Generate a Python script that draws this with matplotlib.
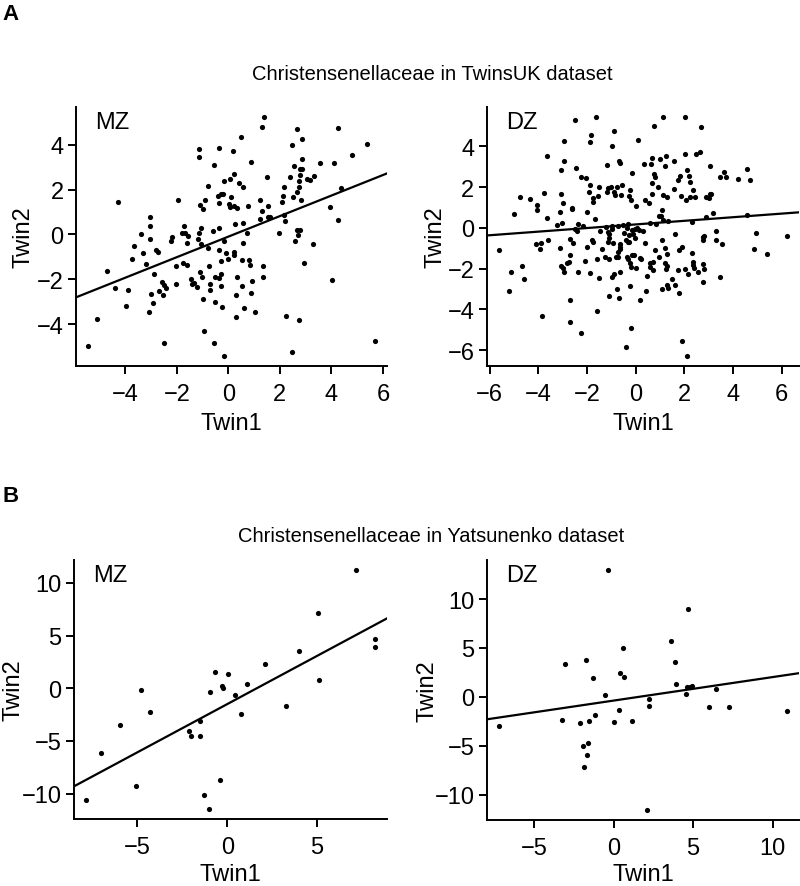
import matplotlib
matplotlib.use("Agg")
import matplotlib.pyplot as plt
import numpy as np

plt.rcParams["font.family"] = ["Liberation Sans", "DejaVu Sans"]

# TwinsUK, MZ pairs (Twin1, Twin2)
uk_mz_twin1 = [
    1.38, 1.31, 2.65, 4.27, 0.47, 2.84, 5.39, 2.48, -1.14, -0.38, 0.18, -1.13, 4.78, 2.87,
    0.87, -0.56, 2.55, 3.57, 4.10, 2.77, 2.86, 2.40, 1.51, -0.17, 0.05, 0.22, 0.40, 0.57,
    -0.81, 3.32, 3.04, 3.16, 2.77, 2.73, 2.73, 2.14, 4.36, 2.65, 2.13, 2.49, 2.83, 2.10,
    -4.30, -1.97, -0.90, -1.09, -0.97, -0.39, -0.30, -0.21, -0.38, 0.10, 0.03, 0.08, 0.22,
    0.35, 0.75, 1.22, 1.53, 1.31, 1.23, 1.53, 1.61, 2.16, 2.19, 3.94, 4.25, -3.05, -3.04,
    -3.39, -3.06, -3.66, -3.74, -3.30, -3.19, -2.82, -2.75, -2.88, -2.19, -2.23, -1.79,
    -1.73, -1.70, -1.55, -1.62, -1.14, -1.06, -1.17, -1.05, -0.58, -0.38, -0.78, -0.35,
    -0.17, -0.10, -0.30, -0.03, 0.21, 0.23, 0.26, 0.55, 0.73, 0.57, 0.51, 0.79, 0.82,
    1.97, 2.60, 2.68, 2.79, 2.71, 3.30, 2.95, 4.03, 1.34, 1.34, 0.32, 0.51, 0.91, 0.88,
    0.30, 0.62, 1.05, 0.29, 2.25, 2.75, 2.45, 5.71, -0.56, -0.19, -0.94, -2.51, -5.47,
    -5.10, -4.70, -4.39, -3.90, -3.97, -3.10, -2.94, -3.00, -2.68, -2.56, -2.49, -2.44,
    -2.53, -2.05, -2.05, -1.77, -1.62, -1.45, -1.42, -1.32, -1.23, -1.12, -1.01, -0.75,
    -0.71, -0.73, -0.52, -0.36, -0.30, -0.30, -0.97, -0.51, -0.23,
]
uk_mz_twin2 = [
    5.26, 4.79, 4.70, 4.77, 4.36, 4.27, 4.03, 4.00, 3.82, 3.88, 3.72, 3.45, 3.53, 3.36,
    3.24, 3.10, 3.05, 3.17, 3.19, 2.92, 2.92, 2.55, 2.56, 2.40, 2.46, 2.71, 2.28, 2.12,
    2.16, 2.61, 2.49, 2.41, 2.67, 2.37, 2.10, 2.13, 2.07, 1.90, 1.70, 1.67, 1.53, 1.45,
    1.47, 1.56, 1.56, 1.32, 1.13, 1.70, 1.79, 1.81, 1.41, 1.67, 1.38, 1.24, 1.26,
    1.19, 1.27, 1.56, 1.26, 1.04, 0.71, 0.77, 0.80, 0.86, 0.59, 1.24, 0.65, 0.76, 0.40,
    0.01, -0.22, -0.53, -1.11, -0.83, -1.30, -0.71, -0.77, -1.75, -0.10, -0.30, 0.06,
    0.40, 0.07, -0.06, -0.40, 0.06, 0.27, -0.22, -0.44, 0.16, 0.31, -0.61, -0.71,
    -0.30, -0.81, -1.17, -1.11, -0.77, -0.92, 0.49, 0.52, 0.07, -0.40, -1.14, -1.14, -1.38,
    0.07, -0.30, 0.19, 0.22, -0.03, -0.41, -1.26, -2.03, -1.39, -1.90, -1.90, -2.31, -2.07, -2.61,
    -2.71, -3.29, -3.47, -3.69, -3.63, -3.81, -5.24, -4.74, -4.86, -5.44, -4.31, -4.84, -4.99,
    -3.76, -1.61, -2.41, -2.46, -3.20, -3.48, -3.05, -2.64, -2.50, -2.12, -2.25, -2.37,
    -2.70, -1.41, -2.21, -1.26, -1.38, -1.97, -2.21, -2.16, -2.36, -1.69, -1.91, -1.41,
    -2.19, -2.49, -1.90, -1.96, -1.75, -2.30, -2.86, -3.02, -3.23,
]

# TwinsUK, DZ pairs
uk_dz_twin1 = [
    -1.64, 1.10, 2.04, -2.48, 0.76, 2.68, -1.83, -0.90, -2.97, -1.89, 0.10, -0.97, -3.67,
    2.04, 2.48, 2.65, 1.26, 0.66, 0.98, 1.56, -2.95, -0.68, -0.65, -1.19, -3.06, -2.47,
    0.32, 0.61, 1.20, 2.10, 3.06, 3.63, 4.58, -0.17, 0.76, 0.80, -2.26, -2.06, 1.82, 2.18,
    3.46, 3.71, 4.18, 4.70, 1.75, 2.23, 0.68, -1.89, -1.53, -1.13, -1.03, -0.79, -0.57,
    -0.25, 0.91, 1.57, 2.34, -1.92, -1.74, -1.77, -1.54, -1.20, -0.91, -0.84, -0.59, -0.28,
    -0.19, -0.01, 0.37, 0.54, 0.66, 1.10, 1.27, 1.86, 2.08, 2.21, 2.44, 2.88, 3.02, 3.03,
    3.10, -4.76, -4.34, -3.79, -4.06, -4.04, -5.01, -3.09, -2.99, -2.63, -2.61, -3.12,
    -3.63, -3.23, -3.05, -2.00, -1.67, -2.36, -2.50, -2.19, -2.40, -1.48, -1.24, -0.99,
    -0.97, -0.72, -0.51, -0.33, -0.36, -0.17, 0.03, 0.15, 0.29, 0.57, 0.83, 0.95, 1.05,
    1.09, 1.12, 1.32, 2.30, 2.88, 3.16, 4.58, -5.64, -5.14, -4.69, -4.59, -5.21, -3.85,
    -4.10, -3.93, -3.88, -3.61, -3.10, -2.70, -2.57, -2.72, -3.09, -2.98, -2.97, -2.83,
    -2.73, -2.36, -2.01, -1.82, -1.75, -2.07, -1.88, -1.60, -1.52, -1.37, -1.27, -1.14,
    -1.10, -1.16, -1.10, -1.10, -0.92, -0.83, -0.74, -0.65, -0.65, -0.63, -0.72, -0.47,
    -0.41, -0.34, -0.26, -0.28, -0.10, -0.04, 0.39, -0.14, -0.08, -0.37, -0.32, -0.22,
    -0.18, 0.00, 0.18, 0.21, 0.57, 0.70, 0.58, 0.77, 0.97, 1.09, 1.21, 1.30, 1.19, 1.23,
    1.30, 1.59, 1.78, 1.88, 2.29, 2.34, 2.36, 2.41, 2.76, 2.77, 2.81, 2.76, 2.79, 2.57,
    3.28, 3.31, 3.56, 4.92, 4.86, 5.39, 6.23, 3.45, 2.76, 1.75, 2.03, 2.15, 1.49, 1.61,
    1.34, 1.28, 1.09, 1.77, 0.44, 0.70, 0.41, 0.19, -0.22, -0.79, -0.68, -0.99, -0.91,
    -0.63, -1.12, -2.70, -2.70, -2.25, -1.59, -0.18, -0.41, 1.89, 2.10, -0.03,
]
uk_dz_twin2 = [
    5.46, 5.46, 5.46, 5.27, 4.98, 4.96, 4.57, 4.75, 4.26, 4.23, 4.29, 4.03, 3.54,
    3.61, 3.64, 3.74, 3.52, 3.43, 3.39, 3.30, 3.30, 3.26, 3.18, 3.07, 2.85, 2.94,
    3.15, 3.15, 3.02, 2.85, 3.02, 2.72, 2.89, 2.69, 2.64, 2.50, 2.50, 2.45, 2.56, 2.56,
    2.48, 2.48, 2.40, 2.33, 2.37, 2.23, 2.20, 2.10, 2.01, 1.94, 2.02, 2.01, 2.10,
    1.88, 1.99, 1.92, 1.84, 1.76, 1.45, 1.26, 1.55, 1.78, 1.75, 1.63, 1.62, 1.55,
    1.37, 1.08, 1.39, 1.22, 1.68, 1.63, 1.50, 1.58, 1.37, 1.53, 1.53, 1.52, 1.45, 1.66,
    1.68, 1.53, 1.40, 1.73, 1.14, 0.90, 0.67, 1.68, 1.21, 0.98, 0.93, 0.78,
    0.46, 0.15, 0.24, 0.77, 0.41, 0.21, -0.08, 0.11, -0.16, -0.16, 0.05, 0.08,
    -0.08, 0.07, 0.15, 0.20, 0.00, -0.11, 0.00, -0.13, -0.16, 0.23, 0.18, 0.57, 0.59,
    0.86, 0.38, 0.36, 0.28, 0.54, 0.72, 0.65, -1.11, -2.15, -1.88, -2.53, -3.12, -4.32,
    -0.80, -1.03, -0.73, -0.62, -0.98, -0.54, -0.73, -1.35, -1.88, -1.96, -2.15, -1.71,
    -1.68, -2.15, -0.96, -0.62, -0.69, -1.65, -2.22, -1.55, -2.46, -1.06, -1.42, -0.21,
    -0.52, -0.69, -0.29, -1.55, -0.75, -1.42, -1.44, -1.03, -0.78, -0.93, -1.17, -0.24,
    -0.59, -0.69, -0.70, -0.33, -0.28, -0.51, -0.73, -1.34, -1.34, -1.42, -1.55, -1.71,
    -1.91, -1.96, -1.47, -1.55, -1.75, -1.70, -1.94, -1.08, -1.44, -0.60, -1.01, -1.27, -1.75, -2.01,
    -1.88, -0.28, -1.09, -0.95, -1.24, -1.68, -1.84, -1.96, -0.44, -0.62, -0.41, -1.78, -2.04, -2.15,
    -0.15, -0.59, -0.78, -0.24, -1.06, -1.29, -0.38, -2.40, -2.64, -2.07, -2.01, -2.25, -2.53, -2.81,
    -2.97, -2.81, -2.99, -3.21, -2.37, -2.09, -3.10, -3.56, -2.85, -3.02, -3.46, -2.41, -2.28,
    -2.15, -3.33, -3.56, -4.60, -5.14, -4.06, -4.94, -5.86, -5.53, -6.31, -0.08,
]

# Yatsunenko, MZ pairs
ya_mz_twin1 = [
    -7.88, -7.0, -5.94, -5.09, -4.79, -4.29, -2.12, -2.04, -1.50, -1.50, -1.31, -1.01,
    -0.94, -0.67, -0.39, -0.30, -0.24, 0.02, 0.45, 0.79, 1.12, 2.08, 3.24, 4.01, 5.06,
    5.09, 7.17, 8.24, 8.24,
]
ya_mz_twin2 = [
    -10.57, -6.16, -3.49, -9.25, -0.19, -2.30, -4.06, -4.56, -3.14, -4.53, -10.13, -11.51,
    -0.38, 1.54, -8.68, 0.22, -0.03, 1.35, -0.69, -2.42, 0.41, 2.30, -1.67, 3.49, 7.14,
    0.82, 11.26, 4.69, 3.87,
]

# Yatsunenko, DZ pairs
ya_dz_twin1 = [
    -7.24, -3.28, -3.07, -2.11, -1.92, -1.85, -1.71, -1.64, -1.66, -1.52, -1.31, -1.16,
    -0.57, -0.38, 0.00, 0.32, 0.42, 0.61, 0.63, 1.16, 2.11, 2.25, 2.25, 3.58, 3.87, 3.92,
    4.55, 4.63, 4.80, 4.93, 4.67, 6.02, 6.46, 7.24, 10.93,
]
ya_dz_twin2 = [
    -2.99, -2.34, 3.33, -2.61, -4.99, -7.16, 3.77, -4.72, -5.91, -2.41, 1.94, -1.83,
    0.20, 13.0, -2.58, -1.32, 2.48, 5.03, 2.07, -2.48, -11.58, -0.17, -0.95, 5.67, 3.57,
    1.36, 0.34, 1.05, 1.02, 1.12, 9.0, -1.02, 0.85, -1.05, -1.39,
]

# fitted lines (slope, intercept)
uk_mz_fit = (0.458, -0.095)
uk_dz_fit = (0.0885, 0.168)
ya_mz_fit = (0.916, -1.51)
ya_dz_fit = (0.240, -0.37)

uk_mz_xticks = [-4, -2, 0, 2, 4, 6]
uk_mz_yticks = [-4, -2, 0, 2, 4]
uk_dz_xticks = [-6, -4, -2, 0, 2, 4, 6]
uk_dz_yticks = [-6, -4, -2, 0, 2, 4]
ya_mz_xticks = [-5, 0, 5]
ya_mz_yticks = [-10, -5, 0, 5, 10]
ya_dz_xticks = [-5, 0, 5, 10]
ya_dz_yticks = [-10, -5, 0, 5, 10]

W, H = 800, 887
FS = 17


def panel(rect, x, y, fit, xticks, yticks, tag, ylab_dist, xlab_dist):
    l, t, r, b = rect
    ax = fig.add_axes([l / W, 1 - b / H, (r - l) / W, (b - t) / H])
    ax.scatter(x, y, s=14, color="black", linewidths=0)
    ax.margins(x=0.04, y=0.04)
    ax.autoscale_view()
    xlim = ax.get_xlim()
    ax.set_autoscale_on(False)
    xs = np.array(xlim)
    ax.plot(xs, fit[0] * xs + fit[1], color="black", lw=1.6)
    ax.set_xlim(xlim)
    ax.set_xticks(xticks)
    ax.set_yticks(yticks)
    for s in ["top", "right"]:
        ax.spines[s].set_visible(False)
    for s in ["left", "bottom"]:
        ax.spines[s].set_linewidth(1.4)
    ax.tick_params(direction="out", length=6, width=1.4, labelsize=FS)
    ax.tick_params(axis="x", pad=6)
    ax.tick_params(axis="y", pad=3)
    ax.set_xlabel("Twin1", fontsize=FS, va="center")
    ax.set_ylabel("Twin2", fontsize=FS, va="center")
    ax.xaxis.set_label_coords(0.5, -xlab_dist / (b - t))
    ax.yaxis.set_label_coords(-ylab_dist / (r - l), 0.5)
    ax.text(0.06, 0.985, tag, transform=ax.transAxes, fontsize=FS, va="top", ha="left")
    return ax


fig = plt.figure(figsize=(W / 100, H / 100), dpi=100)

panel((76, 108, 387, 367), uk_mz_twin1, uk_mz_twin2, uk_mz_fit,
      uk_mz_xticks, uk_mz_yticks, "MZ", 53, 57)
panel((487, 108, 799, 367), uk_dz_twin1, uk_dz_twin2, uk_dz_fit,
      uk_dz_xticks, uk_dz_yticks, "DZ", 51, 57)
panel((74, 561, 387, 820), ya_mz_twin1, ya_mz_twin2, ya_mz_fit,
      ya_mz_xticks, ya_mz_yticks, "MZ", 60, 55)
panel((487, 561, 799, 821), ya_dz_twin1, ya_dz_twin2, ya_dz_fit,
      ya_dz_xticks, ya_dz_yticks, "DZ", 60, 54)

fig.text(432 / W, 1 - 75 / H, "Christensenellaceae in TwinsUK dataset", fontsize=14.5,
         ha="center", va="center")
fig.text(431 / W, 1 - 537 / H, "Christensenellaceae in Yatsunenko dataset", fontsize=14.5,
         ha="center", va="center")
fig.text(2 / W, 1 - 14 / H, "A", fontsize=16, fontweight="bold", ha="left", va="center")
fig.text(2 / W, 1 - 497 / H, "B", fontsize=16, fontweight="bold", ha="left", va="center")

fig.savefig("out.png", dpi=100)
